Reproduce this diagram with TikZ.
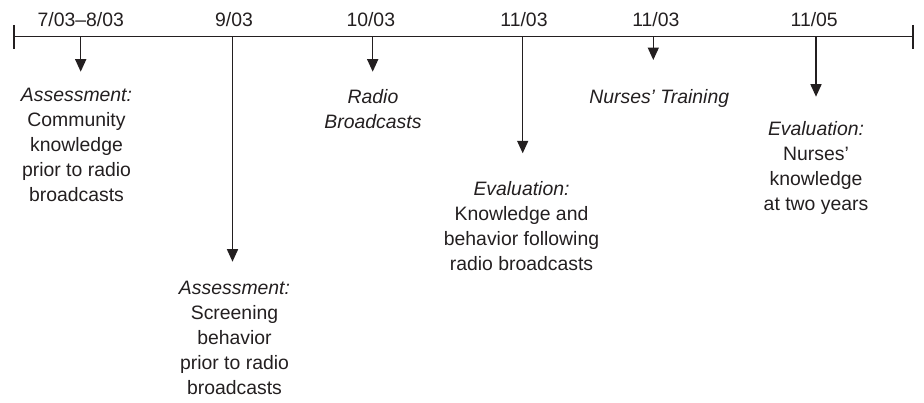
\documentclass[tikz,border=0pt]{standalone}
\usepackage{fontspec}
\setmainfont{Liberation Sans}
\usetikzlibrary{arrows.meta,calc}
\definecolor{tlink}{HTML}{231F20}
\tikzset{
  tl text/.style={font=\fontsize{19.4}{25}\selectfont, text=tlink},
  tl axis/.style={draw=tlink, line width=1.5pt},
  tl tick/.style={draw=tlink, line width=1.8pt},
  tl arrow/.style={-{Triangle[length=12.5pt,width=11pt]}, draw=tlink,
    line width=1.5pt, line cap=butt},
  tl date/.style={anchor=base, inner sep=0pt},
  tl event/.style={anchor=north, inner sep=0pt, align=center}
}
\begin{document}
\begin{tikzpicture}[tl text, x=1pt, y=-1pt]
  \useasboundingbox (0,0) rectangle (924,402);
  % time axis
  \coordinate (axL) at (14,36.7);
  \coordinate (axR) at (913.3,36.7);
  \draw[tl axis] (axL) -- (axR);
  \draw[tl tick] ($(axL)+(0,-11.8)$) -- ($(axL)+(0,11.8)$);
  \draw[tl tick] ($(axR)+(0,-11.8)$) -- ($(axR)+(0,11.8)$);
  % dates
  \node[tl date] (dAssess1) at (80.8,26.7) {7/03--8/03};
  \node[tl date] (dAssess2) at (234,26.7) {9/03};
  \node[tl date] (dRadio) at (370.8,26.7) {10/03};
  \node[tl date] (dEval1) at (524,26.7) {11/03};
  \node[tl date] (dTrain) at (655.8,26.7) {11/03};
  \node[tl date] (dEval2) at (814.2,26.7) {11/05};
  % events
  \node[tl event] (assess1) at (76.5,88.4)
    {\textit{Assessment:}\\Community\\knowledge\\prior to radio\\broadcasts};
  \node[tl event] (assess2) at (234.5,281.1)
    {\textit{Assessment:}\\Screening\\behavior\\prior to radio\\broadcasts};
  \node[tl event] (radio) at (373,88.8) {\textit{Radio}\\\textit{Broadcasts}};
  \node[tl event] (eval1) at (521.5,181.1)
    {\textit{Evaluation:}\\Knowledge and\\behavior following\\radio broadcasts};
  \node[tl event] (train) at (659.2,88.8) {\textit{Nurses’ Training}};
  \node[tl event] (eval2) at (816,121.1)
    {\textit{Evaluation:}\\Nurses’\\knowledge\\at two years};
  % arrows from the axis
  \coordinate (axAssess1) at (80.7,36.7);  \coordinate (tipAssess1) at (80.7,71.7);
  \coordinate (axAssess2) at (232.5,36.7); \coordinate (tipAssess2) at (232.5,261.7);
  \coordinate (axRadio) at (372.7,36.7);   \coordinate (tipRadio) at (372.7,71.7);
  \coordinate (axEval1) at (522.7,36.7);   \coordinate (tipEval1) at (522.7,153.3);
  \coordinate (axTrain) at (653.3,36.7);   \coordinate (tipTrain) at (653.3,60);
  \coordinate (axEval2) at (816,36.7);     \coordinate (tipEval2) at (816,96.7);
  \draw[tl arrow] (axAssess1) -- (tipAssess1);
  \draw[tl arrow] (axAssess2) -- (tipAssess2);
  \draw[tl arrow] (axRadio) -- (tipRadio);
  \draw[tl arrow] (axEval1) -- (tipEval1);
  \draw[tl arrow] (axTrain) -- (tipTrain);
  \draw[tl arrow] (axEval2) -- (tipEval2);
\end{tikzpicture}
\end{document}
